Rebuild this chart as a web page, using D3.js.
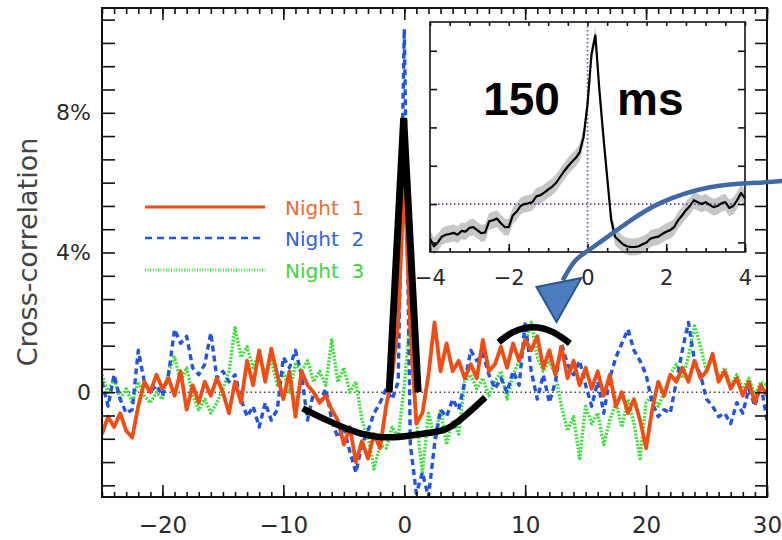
<!DOCTYPE html>
<html>
<head>
<meta charset="utf-8">
<script src="https://cdn.jsdelivr.net/npm/d3@7"></script>
<style>
body{margin:0;background:#fff;}
svg{display:block;font-family:"DejaVu Sans",sans-serif;}
</style>
</head>
<body>
<div id="chart"></div>
<script>
// lag in seconds, cross-correlation in %
var lags = d3.range(-25, 30.001, 0.5);
var night1 = [
 -1.2,-0.7,-1.0,-0.6,-1.1,-1.3,-0.4,0.3,0.0,0.5,
 0.1,0.4,-0.1,0.6,-0.5,0.2,-0.3,0.3,-0.1,0.4,
 0.0,-0.6,0.3,-0.3,0.9,0.2,1.2,0.3,1.25,0.5,
 -0.2,0.6,-0.7,0.6,0.2,0.0,-0.3,-0.1,-0.5,-0.8,
 -1.5,-1.0,-2.0,-1.4,-1.9,-1.2,-1.6,-0.4,0.5,2.0,
 6.2,1.8,-0.9,-0.6,0.5,2.0,0.6,1.4,0.6,0.9,
 0.4,0.8,0.4,1.5,0.6,0.8,1.3,0.7,1.4,0.9,
 1.5,1.2,1.6,0.7,1.2,0.5,1.3,0.4,0.9,0.2,
 0.7,0.1,0.6,-0.1,0.5,-0.4,0.0,-0.6,-0.2,-0.8,
 -1.6,-0.5,0.3,-0.1,0.5,0.3,0.7,0.3,0.9,0.4,
 0.6,1.1,0.3,0.6,0.1,0.4,-0.1,0.3,-0.3,0.2,
 -0.1
];
var night2 = [
 0.3,-0.4,0.5,-0.2,-0.6,-0.5,1.2,0.3,0.0,0.2,
 -0.1,0.5,1.8,1.4,1.6,0.7,0.5,0.8,1.7,0.4,
 0.6,0.3,0.5,-0.2,-0.7,-0.4,-1.0,-0.3,-0.8,-0.5,
 1.0,0.7,1.2,0.5,-0.8,0.0,-0.3,0.1,-0.8,-1.3,
 -1.0,-1.7,-2.3,-1.5,-1.1,-0.6,-0.3,0.1,-0.2,0.3,
 10.4,-1.5,-2.9,-2.3,-3.0,-1.5,-0.5,-0.7,-0.2,-0.5,
 0.3,1.2,0.9,1.1,0.5,0.1,0.4,0.0,0.6,0.2,
 2.0,0.6,-0.2,0.5,-0.3,0.3,1.4,0.8,0.5,0.9,
 0.2,-0.4,0.3,-0.6,0.4,1.0,1.4,1.8,1.2,0.9,
 0.5,-0.3,-0.7,-0.5,-0.6,0.3,1.2,2.0,0.9,0.5,
 -0.2,-0.4,-0.7,-0.6,-0.9,-0.3,-0.6,0.1,-0.4,0.2,
 -0.8
];
var night3 = [
 0.5,0.0,0.4,-0.2,0.1,-0.3,0.3,-0.1,-0.3,0.0,
 -0.2,0.6,1.0,0.3,0.7,-0.1,-0.5,-0.2,-0.6,-0.3,
 0.1,0.6,1.85,1.0,1.3,0.7,1.1,0.5,0.9,0.2,
 0.6,0.0,0.8,0.6,0.9,0.3,0.6,0.2,1.5,0.3,
 0.7,0.0,0.3,-0.8,-1.3,-2.2,-1.5,-1.6,-1.0,-1.3,
 0.2,2.2,-0.8,-2.3,-0.6,-1.3,-0.5,-1.5,-0.8,-1.2,
 0.3,0.5,0.1,0.4,-0.1,0.3,0.6,-0.2,0.5,0.9,
 1.4,2.0,1.0,0.6,0.9,0.5,-0.4,-1.1,-0.7,-1.9,
 -0.4,-0.9,-0.6,-1.5,-0.8,-0.3,-1.0,-0.2,-0.9,-1.9,
 -0.3,-0.1,-0.4,0.0,0.5,0.8,0.4,1.0,1.9,1.3,
 0.6,1.0,0.4,0.7,0.2,0.5,0.1,0.4,-0.1,0.3,
 0.2
];
var xTicks = [-20,-10,0,10,20,30];
var yTicks = [0,4,8];
var seriesNames = ["Night 1","Night 2","Night 3"];

// inset: zoom on -4..4 s
var insetLags = d3.range(-4, 4.001, 0.1);
var insetCorr = [
 -0.9,-1.1,-1.0,-0.85,-0.8,-0.78,-0.75,-0.8,-0.7,-0.72,
 -0.62,-0.6,-0.68,-0.76,-0.74,-0.45,-0.42,-0.38,-0.5,-0.6,
 -0.6,-0.3,-0.2,-0.05,0.0,0.02,0.05,0.2,0.23,0.3,
 0.38,0.45,0.55,0.7,0.85,0.98,1.1,1.2,1.35,1.75,
 2.6,3.9,4.4,3.0,1.8,0.7,-0.4,-0.85,-0.95,-1.05,
 -1.1,-1.12,-1.12,-1.1,-1.05,-1.0,-0.9,-0.87,-0.85,-0.78,
 -0.72,-0.68,-0.6,-0.42,-0.3,-0.16,-0.05,0.1,0.05,0.0,
 0.05,-0.02,-0.08,-0.05,0.02,0.05,-0.1,-0.05,0.1,0.29,
 0.15
];
var insetTicks = [-4,-2,0,2,4];
var insetBand = 0.22;

// hand-drawn annotations, in main plot units
var peakMark = [[-1.25,0],[-0.05,7.85],[1.15,0]];
var dipArc = [[-8.4,-0.46],[-6.4,-0.8],[-3.7,-1.17],[-0.9,-1.29],[1.9,-1.17],[4.0,-0.95],[6.7,-0.15]];
var bumpArc = [[7.8,1.43],[9.0,1.72],[10.65,1.86],[12.3,1.72],[13.7,1.4]];
var arrowPath = [[31.4,6.05],[29.4,6.0],[25.3,5.87],[21.2,5.42],[18.4,4.84],[15.6,4.15],[14.1,3.75],[13.1,3.2]];
var arrowHead = [[10.93,3.01],[14.65,3.27],[12.59,2.01]];

var W=782, H=540;
var L=102, R=767, T=8, B=497;

var x = d3.scaleLinear().domain([-25,30]).range([L,R]);
var y = d3.scaleLinear().domain([-3,11]).range([B,T]);

var svg = d3.select("#chart").append("svg")
    .attr("width", W)
    .attr("height", H);

svg.append("defs").append("clipPath").attr("id","plot")
  .append("rect").attr("x",L).attr("y",T).attr("width",R-L).attr("height",B-T);

// zero line
svg.append("line")
  .attr("x1", x(-25)).attr("x2", x(30))
  .attr("y1", y(0)).attr("y2", y(0))
  .attr("stroke","#444").attr("stroke-width",1.5)
  .attr("stroke-dasharray","1.5,3");

var series = [
  {name:seriesNames[2], values:night3, color:"#3ee03e", dash:"2,1.5", width:3.4},
  {name:seriesNames[1], values:night2, color:"#1f55e0", dash:"6,4", width:3.4},
  {name:seriesNames[0], values:night1, color:"#f04c14", dash:null, width:3.8}
];

var line = d3.line()
  .x(function(d,i){ return x(lags[i]); })
  .y(function(d){ return y(d); });

var dataG = svg.append("g").attr("clip-path","url(#plot)");
series.forEach(function(s){
  dataG.append("path")
    .datum(s.values)
    .attr("d", line)
    .attr("fill","none")
    .attr("stroke", s.color)
    .attr("stroke-width", s.width)
    .attr("stroke-linejoin","round")
    .attr("stroke-dasharray", s.dash);
});

// axes
function xFmt(d){ return d3.format("d")(d); }
var yMinor = d3.range(-4, 17).map(function(i){ return i*2/3; })
  .filter(function(v){ return v >= -3 && v <= 11; });
function yFmt(d){
  var r = Math.round(d);
  if (Math.abs(d-r) > 1e-6 || yTicks.indexOf(r) < 0) return "";
  return r === 0 ? "0" : r + "%";
}

function styleAxis(g, size){
  g.select(".domain").remove();
  g.attr("color","#111").attr("font-family","DejaVu Sans, sans-serif").attr("font-size", size);
  g.selectAll("line").attr("stroke-width",1.6);
  g.selectAll("text").attr("fill","#2a2a2a");
}

svg.append("g").attr("transform","translate(0,"+B+")")
  .call(d3.axisBottom(x).tickValues(d3.range(-25,31,1)).tickSize(-5).tickFormat(""))
  .call(styleAxis, 23);
svg.append("g").attr("transform","translate(0,"+B+")")
  .call(d3.axisBottom(x).tickValues(xTicks).tickSize(-12).tickPadding(20).tickFormat(xFmt))
  .call(styleAxis, 23);
svg.append("g").attr("transform","translate(0,"+T+")")
  .call(d3.axisTop(x).tickValues(d3.range(-25,31,1)).tickSize(-6).tickFormat(""))
  .call(styleAxis, 23);
svg.append("g").attr("transform","translate(0,"+T+")")
  .call(d3.axisTop(x).tickValues(xTicks).tickSize(-12).tickFormat(""))
  .call(styleAxis, 23);
svg.append("g").attr("transform","translate("+L+",0)")
  .call(d3.axisLeft(y).tickValues(yMinor).tickSize(-13).tickPadding(11).tickFormat(yFmt))
  .call(styleAxis, 22);
svg.append("g").attr("transform","translate("+R+",0)")
  .call(d3.axisRight(y).tickValues(yMinor).tickSize(-12).tickFormat(""))
  .call(styleAxis, 22);

svg.append("rect")
  .attr("x",L).attr("y",T).attr("width",R-L).attr("height",B-T)
  .attr("fill","none").attr("stroke","#111").attr("stroke-width",2);

svg.append("text")
  .attr("transform","translate(37,252) rotate(-90)")
  .attr("text-anchor","middle")
  .attr("font-size",27)
  .attr("fill","#444")
  .text("Cross-correlation");

// legend
var legend = [
  {name:seriesNames[0], color:"#f04c14", text:"#ee6a30", dash:null, width:3, ly:207},
  {name:seriesNames[1], color:"#1f55e0", text:"#2e62dc", dash:"7,5", width:2.5, ly:238},
  {name:seriesNames[2], color:"#3ee03e", text:"#3dd63d", dash:"1,1.6", width:3, ly:270}
];
legend.forEach(function(l){
  svg.append("line")
    .attr("x1",145).attr("x2",265).attr("y1",l.ly).attr("y2",l.ly)
    .attr("stroke",l.color).attr("stroke-width",l.width)
    .attr("stroke-dasharray",l.dash);
  svg.append("text")
    .attr("x",285).attr("y",l.ly+8)
    .attr("font-size",20)
    .attr("fill",l.text)
    .attr("xml:space","preserve")
    .text(l.name.replace(" ","  "));
});

// inset
var IL=430, IR=745, IT=22, IB=252;
var ix = d3.scaleLinear().domain([-4,4]).range([IL,IR]);
var iy = d3.scaleLinear().domain([-1.25,4.75]).range([IB,IT]);
var inset = svg.append("g");

inset.append("rect")
  .attr("x",IL).attr("y",IT).attr("width",IR-IL).attr("height",IB-IT)
  .attr("fill","#fff");

inset.append("path")
  .datum(insetCorr)
  .attr("d", d3.area()
    .x(function(d,i){ return ix(insetLags[i]); })
    .y0(function(d){ return iy(d - insetBand); })
    .y1(function(d){ return iy(d + insetBand); }))
  .attr("fill","#c6c6c6");

inset.append("line")
  .attr("x1",ix(0)).attr("x2",ix(0)).attr("y1",IT).attr("y2",IB)
  .attr("stroke","#6b3fa0").attr("stroke-width",1.6).attr("stroke-dasharray","1.5,2.5");
inset.append("line")
  .attr("x1",IL).attr("x2",IR).attr("y1",iy(0)).attr("y2",iy(0))
  .attr("stroke","#6b3fa0").attr("stroke-width",1.6).attr("stroke-dasharray","1.5,2.5");

inset.append("path")
  .datum(insetCorr)
  .attr("d", d3.line()
    .x(function(d,i){ return ix(insetLags[i]); })
    .y(function(d){ return iy(d); }))
  .attr("fill","none").attr("stroke","#000").attr("stroke-width",2.2)
  .attr("stroke-linejoin","round");

var iMinor = d3.range(-4, 4.01, 0.5);
var iY = d3.range(-1, 5, 1);
inset.append("g").attr("transform","translate(0,"+IB+")")
  .call(d3.axisBottom(ix).tickValues(iMinor).tickSize(-4).tickFormat(""))
  .call(styleAxis, 21);
inset.append("g").attr("transform","translate(0,"+IB+")")
  .call(d3.axisBottom(ix).tickValues(insetTicks).tickSize(-8).tickPadding(18).tickFormat(xFmt))
  .call(styleAxis, 21);
inset.append("g").attr("transform","translate(0,"+IT+")")
  .call(d3.axisTop(ix).tickValues(iMinor).tickSize(-4).tickFormat(""))
  .call(styleAxis, 21);
inset.append("g").attr("transform","translate("+IL+",0)")
  .call(d3.axisLeft(iy).tickValues(iY).tickSize(-7).tickFormat(""))
  .call(styleAxis, 21);
inset.append("g").attr("transform","translate("+IR+",0)")
  .call(d3.axisRight(iy).tickValues(iY).tickSize(-7).tickFormat(""))
  .call(styleAxis, 21);
inset.append("rect")
  .attr("x",IL).attr("y",IT).attr("width",IR-IL).attr("height",IB-IT)
  .attr("fill","none").attr("stroke","#111").attr("stroke-width",1.6);

inset.append("text")
  .attr("x",ix(-2.65)).attr("y",iy(2.32))
  .attr("font-family","Liberation Sans, Arial, sans-serif")
  .attr("font-weight","bold").attr("font-size",46)
  .text("150");
inset.append("text")
  .attr("x",ix(0.75)).attr("y",iy(2.32))
  .attr("font-family","Liberation Sans, Arial, sans-serif")
  .attr("font-weight","bold").attr("font-size",46)
  .text("ms");

// annotations
var pt = d3.line().x(function(d){ return x(d[0]); }).y(function(d){ return y(d[1]); });

svg.append("path").datum(peakMark)
  .attr("d", pt)
  .attr("fill","none").attr("stroke","#000").attr("stroke-width",7)
  .attr("stroke-linejoin","miter");
svg.append("path").datum(dipArc)
  .attr("d", pt.curve(d3.curveNatural))
  .attr("fill","none").attr("stroke","#000").attr("stroke-width",6.5);
svg.append("path").datum(bumpArc)
  .attr("d", pt.curve(d3.curveNatural))
  .attr("fill","none").attr("stroke","#000").attr("stroke-width",6.5);

svg.append("path").datum(arrowPath)
  .attr("d", pt.curve(d3.curveNatural))
  .attr("fill","none").attr("stroke","#3f6aa6").attr("stroke-width",4.5);
svg.append("path").datum(arrowHead)
  .attr("d", pt.curve(d3.curveLinearClosed))
  .attr("fill","#4d7dbf").attr("stroke","#2d5690").attr("stroke-width",2)
  .attr("stroke-linejoin","miter");
</script>
</body>
</html>
